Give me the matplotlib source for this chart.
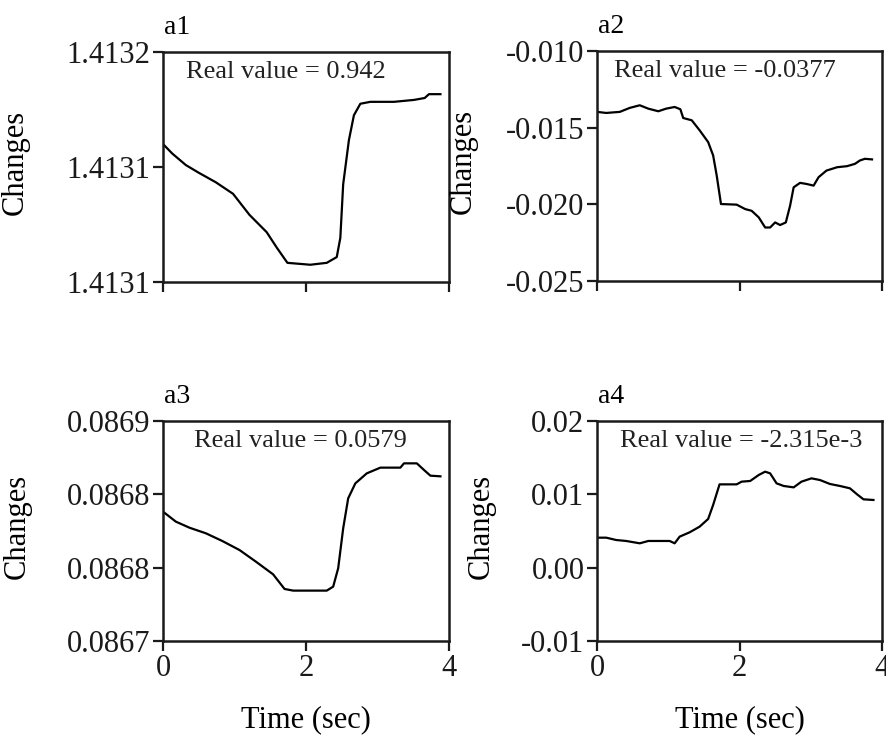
import matplotlib
matplotlib.use("Agg")
import matplotlib.pyplot as plt
from matplotlib.ticker import FormatStrFormatter
import numpy as np

plt.rcParams['font.family'] = ['Liberation Serif', 'DejaVu Serif']
plt.rcParams['axes.unicode_minus'] = False

# a1
t1 = [0, 0.13, 0.32, 0.50, 0.74, 0.98, 1.21, 1.45, 1.59, 1.74, 2.06, 2.29, 2.43, 2.48,
      2.52, 2.60, 2.67, 2.76, 2.90, 3.23, 3.51, 3.66, 3.72, 3.88]
y1 = [1.413132, 1.413127, 1.413121, 1.413117, 1.413112, 1.413106, 1.413095, 1.413086,
      1.413078, 1.413070, 1.413069, 1.413070, 1.413073, 1.413083, 1.413111, 1.413134,
      1.413147, 1.413153, 1.413154, 1.413154, 1.413155, 1.413156, 1.413158, 1.413158]

# a2
t2 = [0, 0.13, 0.32, 0.46, 0.60, 0.72, 0.86, 0.97, 1.09, 1.17, 1.21, 1.33, 1.44, 1.56,
      1.63, 1.68, 1.74, 1.96, 2.08, 2.17, 2.27, 2.36, 2.43, 2.50, 2.57, 2.65, 2.71, 2.76,
      2.85, 2.94, 3.04, 3.11, 3.22, 3.37, 3.51, 3.62, 3.69, 3.76, 3.86]
y2 = [-0.01397, -0.01404, -0.01397, -0.01371, -0.01354, -0.01376, -0.01393, -0.01376,
      -0.01365, -0.01380, -0.01437, -0.01452, -0.01517, -0.01594, -0.01681, -0.01812,
      -0.01998, -0.02002, -0.02031, -0.02042, -0.02085, -0.02151, -0.02151, -0.02118,
      -0.02135, -0.02118, -0.02009, -0.01889, -0.01860, -0.01867, -0.01878, -0.01823,
      -0.01780, -0.01758, -0.01751, -0.01736, -0.01714, -0.01703, -0.01707]

# a3
t3 = [0, 0.18, 0.37, 0.60, 0.83, 1.07, 1.30, 1.54, 1.70, 1.82, 2.29, 2.38, 2.45, 2.52,
      2.59, 2.69, 2.85, 3.04, 3.32, 3.37, 3.55, 3.65, 3.74, 3.88]
y3 = [0.0868176, 0.0868085, 0.0868030, 0.0867979, 0.0867909, 0.0867827, 0.0867721,
      0.0867606, 0.0867473, 0.0867458, 0.0867458, 0.0867494, 0.0867661, 0.0868024,
      0.0868297, 0.0868433, 0.0868524, 0.0868576, 0.0868576, 0.0868615, 0.0868615,
      0.0868555, 0.0868503, 0.0868497]

# a4
t4 = [0, 0.13, 0.27, 0.41, 0.60, 0.72, 0.88, 1.02, 1.09, 1.16, 1.30, 1.44, 1.56, 1.63,
      1.72, 1.96, 2.03, 2.15, 2.27, 2.36, 2.43, 2.52, 2.62, 2.76, 2.87, 3.01, 3.13, 3.27,
      3.41, 3.55, 3.65, 3.74, 3.88]
y4 = [0.00409, 0.00409, 0.00377, 0.00364, 0.00332, 0.00364, 0.00364, 0.00364, 0.00332,
      0.00423, 0.00482, 0.00559, 0.00664, 0.00855, 0.01136, 0.01136, 0.01173, 0.01182,
      0.01264, 0.01309, 0.01286, 0.01150, 0.01114, 0.01095, 0.01173, 0.01218, 0.01195,
      0.01141, 0.01114, 0.01082, 0.01000, 0.00932, 0.00923]

names = ['a1', 'a2', 'a3', 'a4']
real_values = ['Real value = 0.942', 'Real value = -0.0377',
               'Real value = 0.0579', 'Real value = -2.315e-3']
yticks = [[1.41306, 1.41312, 1.41318],
          [-0.025, -0.020, -0.015, -0.010],
          list(np.linspace(0.0867, 0.0869, 4)),
          [-0.01, 0.00, 0.01, 0.02]]
yfmt = ['%.4f', '%.3f', '%.4f', '%.2f']
xticks = [0, 2, 4]

series = [(t1, y1), (t2, y2), (t3, y3), (t4, y4)]

fig = plt.figure(figsize=(8.87, 7.40), dpi=100)
W, H = 887, 740
# axes boxes in pixels: left, top, right, bottom
boxes = [(163, 52, 449, 282), (597, 51, 882, 281),
         (163, 421, 449, 641), (597, 421, 882, 641)]
txt_x = [0.43, 0.45, 0.48, 0.505]
ylab_x = [-0.465, -0.42, -0.458, -0.354]

for i in range(4):
    l, t, r, b = boxes[i]
    ax = fig.add_axes([l / W, 1 - b / H, (r - l) / W, (b - t) / H])
    x, y = series[i]
    ax.plot(x, y, color='black', lw=1.6)
    ax.set_xlim(0, 4)
    ax.set_ylim(yticks[i][0], yticks[i][-1])
    ax.set_yticks(yticks[i])
    ax.set_xticks(xticks)
    ax.yaxis.set_major_formatter(FormatStrFormatter(yfmt[i]))
    ax.tick_params(direction='out', length=7, width=1.6, labelsize=22, pad=2,
                   top=False, right=False, colors='#1a1a1a')
    for s in ax.spines.values():
        s.set_linewidth(1.8)
        s.set_color('#1a1a1a')
    if i < 2:
        ax.tick_params(axis='x', labelbottom=False)
    else:
        ax.set_xlabel('Time (sec)', fontsize=22)
        ax.xaxis.set_label_coords(0.5, -0.29)
    ax.set_ylabel('Changes', fontsize=22)
    ax.yaxis.set_label_coords(ylab_x[i], 0.52)
    ax.annotate(names[i], xy=(0, 1), xycoords='axes fraction', xytext=(1, 13),
                textcoords='offset points', ha='left', va='baseline', fontsize=20)
    ax.annotate(real_values[i], xy=(txt_x[i], 1), xycoords='axes fraction',
                xytext=(0, -14.5), textcoords='offset points', ha='center',
                va='center', fontsize=19, color='#222222')

fig.savefig('out.png', dpi=100)
